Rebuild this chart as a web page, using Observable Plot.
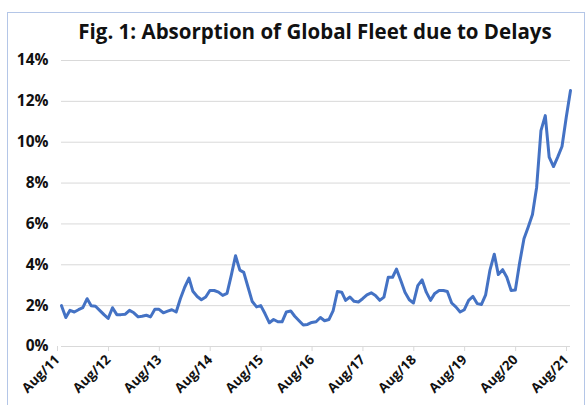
<!DOCTYPE html>
<html>
<head>
<meta charset="utf-8">
<script src="https://cdn.jsdelivr.net/npm/d3@7"></script>
<script src="https://cdn.jsdelivr.net/npm/@observablehq/plot@0.6"></script>
<style>
  html, body { margin: 0; padding: 0; background: #fff; }
  #wrap { position: relative; width: 588px; height: 405px; overflow: hidden; font-family: "Open Sans", sans-serif; }
  #frame { position: absolute; left: 7px; top: 12px; width: 578px; height: 400px; border: 1px solid #b4c6e7; box-sizing: border-box; }
  #title { position: absolute; left: 0; top: 17px; width: 630px; text-align: center; font-weight: 700; font-size: 20.5px; color: #111; white-space: nowrap; }
  #chart { position: absolute; left: 0; top: 0; }
</style>
</head>
<body>
<div id="wrap">
  <div id="frame"></div>
  <div id="title">Fig. 1: Absorption of Global Fleet due to Delays</div>
  <div id="chart"></div>
</div>
<script>
const startMonth = "2011-08";
const values = [
  2.0, 1.42, 1.77, 1.69, 1.8,
  1.9, 2.34, 2.0, 1.97, 1.77, 1.56, 1.37, 1.9, 1.56, 1.56, 1.58, 1.77,
  1.65, 1.45, 1.48, 1.53, 1.45, 1.82, 1.82, 1.65, 1.73, 1.8, 1.69, 2.34,
  2.9, 3.35, 2.7, 2.45, 2.29, 2.42, 2.74, 2.74, 2.66, 2.5, 2.6, 3.47,
  4.44, 3.74, 3.63, 2.9, 2.2, 1.94, 2.0, 1.6, 1.16, 1.32, 1.21, 1.21,
  1.69, 1.74, 1.48, 1.26, 1.05, 1.08, 1.18, 1.21, 1.42, 1.26, 1.32, 1.74,
  2.69, 2.66, 2.26, 2.42, 2.21, 2.18, 2.34, 2.53, 2.63, 2.5, 2.26, 2.42,
  3.39, 3.39, 3.79, 3.23, 2.66, 2.29, 2.13, 2.98, 3.26, 2.66, 2.26, 2.6,
  2.74, 2.74, 2.69, 2.13, 1.94, 1.69, 1.8, 2.26, 2.45, 2.1, 2.06, 2.53,
  3.74, 4.52, 3.52, 3.76, 3.39, 2.74, 2.76, 4.1, 5.27, 5.84, 6.46, 7.8,
  10.57, 11.3, 9.27, 8.81, 9.27, 9.79, 11.2, 12.53
];
const xTickLabels = ["Aug/11","Aug/12","Aug/13","Aug/14","Aug/15","Aug/16","Aug/17","Aug/18","Aug/19","Aug/20","Aug/21"];
const yTicks = [0, 2, 4, 6, 8, 10, 12, 14];

const start = new Date(startMonth + "-01T00:00:00Z");
const data = values.map((v, i) => ({ date: d3.utcMonth.offset(start, i), value: v / 100 }));
const xTicks = xTickLabels.map((_, i) => d3.utcYear.offset(start, i));

const chart = Plot.plot({
  width: 588,
  height: 405,
  marginTop: 60,
  marginBottom: 59,
  marginLeft: 61,
  marginRight: 18,
  style: { fontFamily: "Open Sans, sans-serif", background: "transparent", overflow: "visible" },
  x: { type: "utc", domain: [xTicks[0], xTicks[xTicks.length - 1]] },
  y: { domain: [0, 0.14] },
  marks: [
    Plot.gridY(yTicks.map(t => t / 100), { stroke: "#d9d9d9", strokeOpacity: 1, strokeWidth: 1 }),
    Plot.axisX(xTicks, {
      tickFormat: (d, i) => xTickLabels[i],
      tickRotate: -45,
      tickSize: 5,
      stroke: "#d9d9d9",
      strokeOpacity: 1,
      tickPadding: 6,
      dx: -4,
      fontSize: 13.5,
      fontWeight: "bold",
      fill: "#111",
      label: null
    }),
    Plot.axisY(yTicks.map(t => t / 100), {
      tickFormat: d => Math.round(d * 100) + "%",
      tickSize: 0,
      tickPadding: 13,
      fontSize: 15.5,
      fontWeight: "bold",
      fill: "#111",
      label: null
    }),
    Plot.lineY(data, { x: "date", y: "value", stroke: "#4472c4", strokeWidth: 3, strokeLinejoin: "round", strokeLinecap: "round" })
  ]
});
document.getElementById("chart").appendChild(chart);
</script>
</body>
</html>
